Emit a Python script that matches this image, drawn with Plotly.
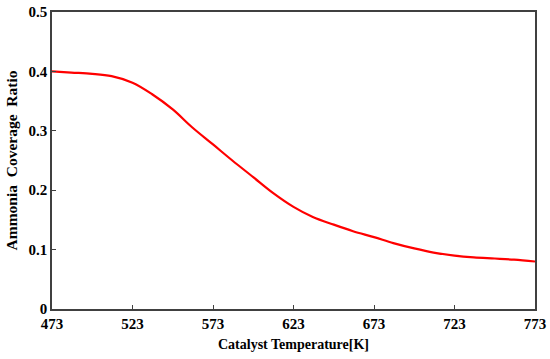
import plotly.graph_objects as go

temperature = [473, 485, 498, 510, 523, 535, 548, 560, 573, 585, 598, 610, 623,
               635, 648, 660, 673, 685, 698, 710, 723, 735, 748, 760, 773]
coverage = [0.400, 0.398, 0.396, 0.392, 0.381, 0.362, 0.336, 0.306, 0.277, 0.250,
            0.222, 0.196, 0.172, 0.155, 0.142, 0.131, 0.121, 0.111, 0.102, 0.095,
            0.090, 0.087, 0.085, 0.083, 0.080]
x_ticks = [473, 523, 573, 623, 673, 723, 773]
y_ticks = [0, 0.1, 0.2, 0.3, 0.4, 0.5]
y_tick_labels = ["0", "0.1", "0.2", "0.3", "0.4", "0.5"]

fig = go.Figure()
fig.add_trace(go.Scatter(x=temperature, y=coverage, mode="lines",
                         line=dict(color="#ff0000", width=2.2, shape="spline", smoothing=1.0),
                         showlegend=False))

font = dict(family="Liberation Serif", size=14, color="#000000")
axis_common = dict(showline=True, linecolor="#404040", linewidth=1.5, mirror=True,
                   ticks="inside", ticklen=4, tickwidth=1, tickcolor="#404040",
                   showgrid=False, zeroline=False, automargin=False,
                   tickfont=dict(family="Liberation Serif", size=15, color="#000000", weight="bold"))

fig.update_layout(
    width=550, height=359,
    margin=dict(l=52, r=15, t=12, b=50),
    paper_bgcolor="white", plot_bgcolor="white",
    font=font,
    xaxis=dict(range=[473, 773], tickvals=x_ticks,
               title=dict(text="<b>Catalyst Temperature[K]</b>", standoff=8,
                          font=dict(family="Liberation Serif", size=14)),
               **axis_common),
    yaxis=dict(range=[0, 0.5], tickvals=y_ticks, ticktext=y_tick_labels,
               title=dict(text="<b>Ammonia&nbsp; Coverage&nbsp; Ratio</b>", standoff=7,
                          font=dict(family="Liberation Serif", size=15.5)),
               **axis_common),
)

fig.write_html("out.html", config={"displayModeBar": False},
               post_script="document.body.style.margin='0';")
